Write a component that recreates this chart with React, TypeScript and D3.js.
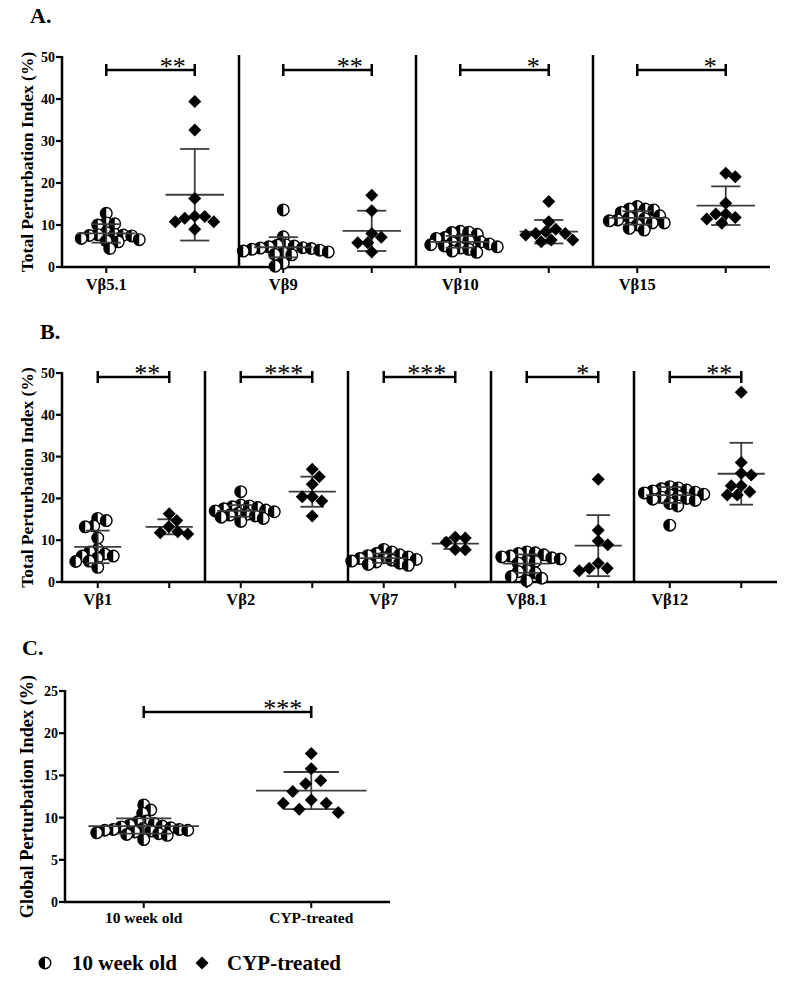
import React from "react";
import * as d3 from "d3";

// ---------- DATA ----------
const groupNames = ["10 week old", "CYP-treated"];

// Panel A
const aLabels = ["Vβ5.1", "Vβ9", "Vβ10", "Vβ15"];
const aSig = ["**", "**", "*", "*"];
const aOld = [
  [12.8, 10.5, 10.3, 10.0, 8.2, 7.8, 7.7, 7.6, 7.5, 7.4, 6.8, 6.5, 6.2, 6.0, 4.4],
  [13.6, 7.2, 5.3, 5.2, 5.0, 4.8, 4.6, 4.5, 4.4, 4.2, 4.0, 3.8, 3.6, 3.4, 3.0, 2.9, 0.9, 0.2],
  [8.5, 8.3, 8.2, 7.8, 7.0, 6.8, 6.5, 6.3, 6.0, 5.8, 5.5, 5.3, 5.0, 4.8, 4.5, 4.2, 3.8, 3.5],
  [14.4, 13.8, 13.8, 13.6, 13.0, 12.4, 12.2, 11.8, 11.5, 11.2, 11.0, 10.5, 10.5, 10.0, 9.2, 8.8],
];
const aCyp = [
  [39.4, 32.6, 16.3, 12.1, 12.0, 11.6, 10.8, 10.8, 9.0],
  [17.1, 13.4, 8.0, 7.1, 5.8, 5.8, 3.6],
  [15.6, 10.8, 9.0, 8.4, 8.0, 8.0, 7.6, 6.4, 6.4, 6.0],
  [22.3, 21.5, 15.2, 12.6, 12.6, 11.8, 11.4, 10.4],
];
const aOldMean = [8.0, 4.7, 6.0, 11.7];
const aOldSd = [2.2, 2.4, 1.4, 1.6];
const aCypMean = [17.2, 8.6, 8.4, 14.6];
const aCypSd = [10.9, 4.8, 2.8, 4.6];

// Panel B
const bLabels = ["Vβ1", "Vβ2", "Vβ7", "Vβ8.1", "Vβ12"];
const bSig = ["**", "***", "***", "*", "**"];
const bOld = [
  [15.2, 14.7, 13.4, 13.2, 10.5, 7.8, 7.2, 6.7, 6.2, 6.2, 5.7, 5.0, 4.9, 3.5],
  [21.6, 18.4, 18.2, 18.0, 17.8, 17.5, 17.2, 17.0, 16.8, 16.5, 16.2, 16.0, 15.8, 15.5, 15.2, 14.5],
  [7.8, 7.2, 6.8, 6.5, 6.3, 6.0, 5.8, 5.6, 5.4, 5.2, 5.0, 4.8, 4.5, 4.2, 4.0],
  [7.2, 7.0, 6.8, 6.5, 6.2, 6.0, 5.8, 5.5, 5.0, 4.9, 4.5, 2.7, 2.5, 2.2, 1.3, 0.9, 0.3],
  [22.8, 22.5, 22.3, 22.0, 21.8, 21.5, 21.3, 21.0, 20.8, 20.5, 20.3, 20.0, 19.8, 19.5, 18.8, 18.2, 13.6],
];
const bCyp = [
  [16.3, 14.7, 13.2, 12.0, 11.8, 11.5],
  [27.0, 25.2, 23.4, 20.4, 20.4, 19.4, 15.8],
  [10.7, 10.5, 9.5, 7.8, 7.7],
  [24.6, 12.4, 9.8, 8.9, 4.5, 3.3, 3.3, 2.7],
  [45.4, 28.6, 26.0, 25.6, 23.0, 23.0, 21.6, 20.8, 20.8],
];
const bOldMean = [8.4, 17.0, 5.7, 4.4, 20.8];
const bOldSd = [3.9, 1.4, 1.1, 2.2, 1.9];
const bCypMean = [13.2, 21.6, 9.2, 8.7, 25.9];
const bCypSd = [1.8, 3.6, 1.3, 7.3, 7.4];

// Panel C
const cOld = [11.5, 10.9, 10.5, 9.6, 9.5, 9.3, 9.1, 9.0, 8.9, 8.8, 8.7, 8.6, 8.6, 8.5, 8.5, 8.4, 8.3, 8.2, 8.1, 8.0, 7.9, 7.4];
const cCyp = [17.6, 15.8, 14.4, 14.0, 13.1, 12.1, 11.7, 11.7, 11.0, 10.6];
const cMean = [9.0, 13.2];
const cSd = [0.9, 2.2];
const cSig = "***";

const abTicks = [0, 10, 20, 30, 40, 50];
const cTicks = [0, 5, 10, 15, 20, 25];

// ---------- HELPERS ----------
const FONT = "'Liberation Serif', 'Times New Roman', serif";
const R = 5.8;
const H = 6.5;
const BAR = "#3c3c3c";

function swarm(values: number[], y: (v: number) => number, cx: number, minDist: number) {
  const idx = values.map((_, i) => i).sort((a, b) => values[b] - values[a]);
  const placed: { x: number; y: number }[] = [];
  const out: { x: number; y: number }[] = new Array(values.length);
  let flip = 1;
  idx.forEach((i) => {
    const py = y(values[i]);
    const ok = (px: number) => placed.every((p) => Math.hypot(p.x - px, p.y - py) >= minDist);
    let chosen = cx;
    for (let d = 0; d < 200; d += 0.5) {
      const a = cx + d * flip;
      const b = cx - d * flip;
      if (ok(a)) { chosen = a; break; }
      if (ok(b)) { chosen = b; break; }
    }
    if (chosen !== cx) flip = -flip;
    placed.push({ x: chosen, y: py });
    out[i] = { x: chosen, y: py };
  });
  return out;
}

function HalfCircle({ x, y }: { x: number; y: number }) {
  return (
    <g>
      <circle cx={x} cy={y} r={R} fill="#fff" stroke="#000" strokeWidth={1.4} />
      <path d={`M${x},${y - R} A${R},${R} 0 0 0 ${x},${y + R} Z`} fill="#000" />
    </g>
  );
}

function Diamond({ x, y }: { x: number; y: number }) {
  return <path d={`M${x},${y - H} L${x + H},${y} L${x},${y + H} L${x - H},${y} Z`} fill="#000" />;
}

function ErrBar({ cx, y, mean, sd, step }: { cx: number; y: d3.ScaleLinear<number, number>; mean: number; sd: number; step: number }) {
  const mw = step * 0.33;
  const cw = step * 0.165;
  const ym = y(mean), yt = y(mean + sd), yb = y(Math.max(mean - sd, 0));
  return (
    <g stroke={BAR} strokeWidth={1.8}>
      <line x1={cx - mw} x2={cx + mw} y1={ym} y2={ym} />
      <line x1={cx} x2={cx} y1={yt} y2={yb} />
      <line x1={cx - cw} x2={cx + cw} y1={yt} y2={yt} />
      <line x1={cx - cw} x2={cx + cw} y1={yb} y2={yb} />
    </g>
  );
}

function Group({ vals, cx, y, mean, sd, step, kind, dDist }: any) {
  const pos = swarm(vals, y, cx, kind === "c" ? 8.3 : dDist);
  if (kind === "c") {
    return (
      <g>
        {pos.map((p, i) => <HalfCircle key={i} x={p.x} y={p.y} />)}
        <ErrBar cx={cx} y={y} mean={mean} sd={sd} step={step} />
      </g>
    );
  }
  return (
    <g>
      <ErrBar cx={cx} y={y} mean={mean} sd={sd} step={step} />
      {pos.map((p, i) => <Diamond key={i} x={p.x} y={p.y} />)}
    </g>
  );
}

function Sig({ x1, x2, yy, text }: { x1: number; x2: number; yy: number; text: string }) {
  return (
    <g>
      <g stroke="#000" strokeWidth={2.5}>
        <line x1={x1} x2={x2} y1={yy} y2={yy} />
        <line x1={x1} x2={x1} y1={yy - 6} y2={yy + 6} />
        <line x1={x2} x2={x2} y1={yy - 6} y2={yy + 6} />
      </g>
      <text x={x2 - 9} y={yy + 5} textAnchor="end" fontFamily={FONT} fontSize={26}>
        {text}
      </text>
    </g>
  );
}

function YAxis({ x, y, ticks, label, labelSize }: any) {
  const [r0, r1] = y.range();
  return (
    <g>
      <line x1={x} x2={x} y1={r1 - 1} y2={r0 + 1} stroke="#000" strokeWidth={2.5} />
      {ticks.map((t: number) => (
        <g key={t}>
          <line x1={x - 6} x2={x} y1={y(t)} y2={y(t)} stroke="#000" strokeWidth={2.2} />
          <text x={x - 7} y={y(t) + 5} textAnchor="end" fontFamily={FONT} fontWeight="bold" fontSize={14}>{t}</text>
        </g>
      ))}
      <text
        transform={`translate(${27},${(r0 + r1) / 2}) rotate(-90)`}
        textAnchor="middle"
        dominantBaseline="central"
        fontFamily={FONT}
        fontWeight="bold"
        fontSize={labelSize}
      >
        {label}
      </text>
    </g>
  );
}

function MultiPanel({ labels, sig, olds, cyps, oldMean, oldSd, cypMean, cypSd, x0, x1, yTop, yBot, sigY }: any) {
  const cats: string[] = [];
  labels.forEach((l: string, i: number) => { cats.push(`o${i}`); cats.push(`c${i}`); });
  const x = d3.scalePoint<string>().domain(cats).range([x0, x1]).padding(0.5);
  const y = d3.scaleLinear().domain([0, 50]).range([yBot, yTop]);
  const step = x.step();
  return (
    <g>
      <YAxis x={x0} y={y} ticks={abTicks} label="Total Perturbation Index (%)" labelSize={17.5} />
      <line x1={x0 - 1} x2={x1} y1={yBot} y2={yBot} stroke="#000" strokeWidth={2.5} />
      {labels.map((l: string, i: number) => {
        const xo = x(`o${i}`)!, xc = x(`c${i}`)!;
        return (
          <g key={l}>
            <line x1={xo} x2={xo} y1={yBot} y2={yBot + 6} stroke="#000" strokeWidth={2} />
            <line x1={xc} x2={xc} y1={yBot} y2={yBot + 6} stroke="#000" strokeWidth={2} />
            <text x={xo} y={yBot + 23} textAnchor="middle" fontFamily={FONT} fontWeight="bold" fontSize={16.5}>{l}</text>
            {i > 0 && (
              <line x1={xo - step / 2} x2={xo - step / 2} y1={yTop - 2} y2={yBot} stroke="#000" strokeWidth={2.5} />
            )}
            <Sig x1={xo} x2={xc} yy={sigY} text={sig[i]} />
            <Group vals={olds[i]} cx={xo} y={y} mean={oldMean[i]} sd={oldSd[i]} step={step} kind="c" />
            <Group vals={cyps[i]} cx={xc} y={y} mean={cypMean[i]} sd={cypSd[i]} step={step} kind="d" dDist={10} />
          </g>
        );
      })}
    </g>
  );
}

export default function App() {
  // panel C
  const cx = d3.scalePoint<string>().domain(groupNames).range([65, 390]).padding(0.47);
  const cy = d3.scaleLinear().domain([0, 25]).range([902, 691]);
  const cStep = cx.step();
  return (
    <svg width={800} height={982} style={{ position: "absolute", left: 0, top: 0, background: "#fff" }}>
      <rect width={800} height={982} fill="#fff" />
      <text x={30} y={23} fontFamily={FONT} fontWeight="bold" fontSize={22}>A.</text>
      <text x={40} y={339} fontFamily={FONT} fontWeight="bold" fontSize={22}>B.</text>
      <text x={22} y={655} fontFamily={FONT} fontWeight="bold" fontSize={22}>C.</text>

      <MultiPanel labels={aLabels} sig={aSig} olds={aOld} cyps={aCyp} oldMean={aOldMean} oldSd={aOldSd}
        cypMean={aCypMean} cypSd={aCypSd} x0={62} x1={770} yTop={57} yBot={267} sigY={70} />
      <MultiPanel labels={bLabels} sig={bSig} olds={bOld} cyps={bCyp} oldMean={bOldMean} oldSd={bOldSd}
        cypMean={bCypMean} cypSd={bCypSd} x0={62} x1={777} yTop={373} yBot={582} sigY={377} />

      <g>
        <YAxis x={65} y={cy} ticks={cTicks} label="Global Perturbation Index (%)" labelSize={18.3} />
        <line x1={64} x2={390} y1={902} y2={902} stroke="#000" strokeWidth={2.5} />
        {groupNames.map((g) => (
          <g key={g}>
            <line x1={cx(g)!} x2={cx(g)!} y1={902} y2={908} stroke="#000" strokeWidth={2} />
            <text x={cx(g)!} y={923} textAnchor="middle" fontFamily={FONT} fontWeight="bold" fontSize={15.5}>{g}</text>
          </g>
        ))}
        <Sig x1={cx(groupNames[0])!} x2={cx(groupNames[1])!} yy={712} text={cSig} />
        <Group vals={cOld} cx={cx(groupNames[0])!} y={cy} mean={cMean[0]} sd={cSd[0]} step={cStep} kind="c" />
        <Group vals={cCyp} cx={cx(groupNames[1])!} y={cy} mean={cMean[1]} sd={cSd[1]} step={cStep} kind="d" dDist={15} />
      </g>

      {/* legend */}
      <g>
        <HalfCircle x={45} y={963} />
        <text x={72} y={970} fontFamily={FONT} fontWeight="bold" fontSize={21}>{groupNames[0]}</text>
        <Diamond x={202} y={963} />
        <text x={227} y={970} fontFamily={FONT} fontWeight="bold" fontSize={21}>{groupNames[1]}</text>
      </g>
    </svg>
  );
}
